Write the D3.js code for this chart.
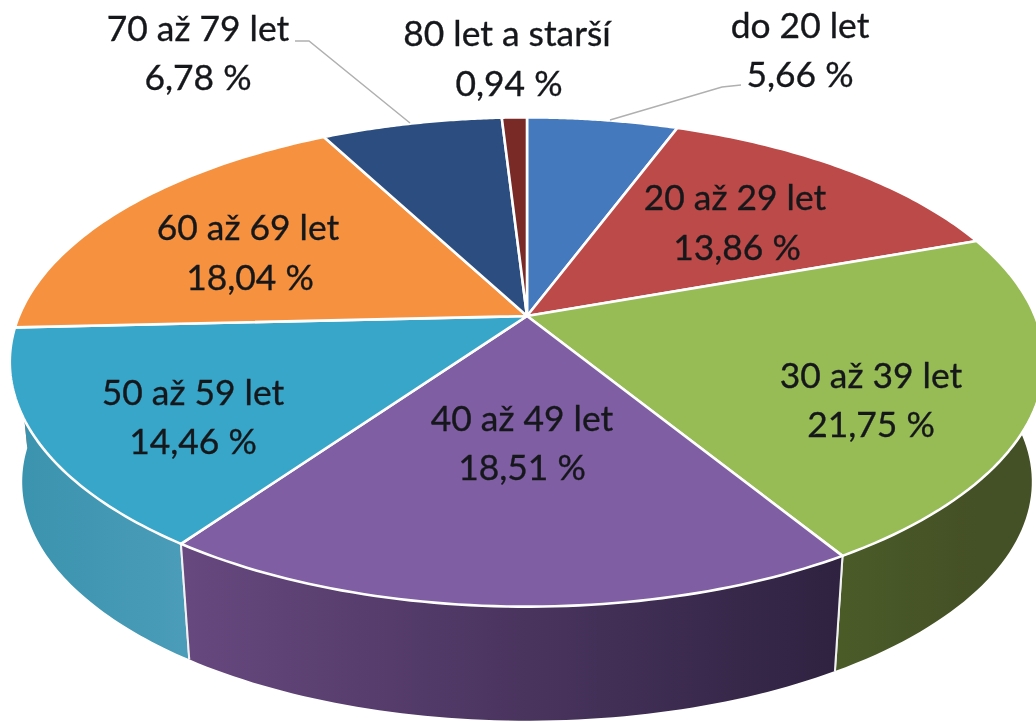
<!DOCTYPE html>
<html><head><meta charset="utf-8">
<script src="https://cdn.jsdelivr.net/npm/d3@7"></script>
<style>html,body{margin:0;padding:0;background:#fff;overflow:hidden}svg{display:block;filter:blur(0.6px)}text{font-family:Lato,"Open Sans",sans-serif;font-size:35.4px;fill:#15171b;stroke:#15171b;stroke-width:0.35px;text-anchor:middle}</style>
</head><body><svg id="c" width="1036" height="722"></svg>
<script>
const categories=["do 20 let","20 až 29 let","30 až 39 let","40 až 49 let","50 až 59 let","60 až 69 let","70 až 79 let","80 let a starší"];
const values=[5.66,13.86,21.75,18.51,14.46,18.04,6.78,0.94];
const valueLabels=["5,66 %","13,86 %","21,75 %","18,51 %","14,46 %","18,04 %","6,78 %","0,94 %"];
const topColors=["#4579bd","#bc4a48","#97bb55","#7f5ea3","#37a6c9","#f5913f","#2c4d80","#792a27"];
const wallColors=[["#3a6398","#3a6398"],["#8a3533","#8a3533"],["#445025","#4a5b28"],["#67487f","#2e2240"],["#4a9cb8","#3a93ae"],["#b56a2e","#b56a2e"],["#203a60","#203a60"],["#5a201e","#5a201e"]];
const labelPos=[[800,38,800,87],[735,210,737,260],[871,388,871,437],[522,431,522,480],[193,405,193,454],[248,240,250,290],[198,41,198,90],[507,46,509,96]];

const svg=d3.select("#c"),defs=svg.append("defs");
const pie=d3.pie().sort(null).value(d=>d);
const arcs=pie(values);
const hub=[527,316],k=0.188,B=508,A=236,depthPx=119;
const sx=d3.scaleLinear().domain([-1,1]).range([-B,B]);
const sy=d3.scaleLinear().domain([-1,1]).range([-A,A]);
function proj(a,r,depth){
  const u=Math.sin(a)*r,v=-Math.cos(a)*r,d=1-k*v,s=depth?0.976:1;
  return [hub[0]+s*sx(u)/d,hub[1]+(depth?depthPx:0)+s*sy(v)/d+(depth?2:0)];
}
const line=d3.line();
function samples(a0,a1){return d3.range(0,61).map(i=>a0+(a1-a0)*i/60);}

// walls, painted back to front
const order=arcs.map((d,i)=>i).sort((p,q)=>{
  const c=i=>-Math.cos((arcs[i].startAngle+arcs[i].endAngle)/2);return c(p)-c(q);});
order.forEach(i=>{
  const d=arcs[i],g="w"+i;
  const lg=defs.append("linearGradient").attr("id",g).attr("gradientUnits","userSpaceOnUse")
    .attr("x1",proj(d.startAngle,1,0)[0]).attr("x2",proj(d.endAngle,1,0)[0]).attr("y1",0).attr("y2",0);
  const cols=i==3?[wallColors[i][1],wallColors[i][0]]:[wallColors[i][0],wallColors[i][1]];
  lg.append("stop").attr("offset",0).attr("stop-color",cols[0]);
  lg.append("stop").attr("offset",1).attr("stop-color",cols[1]);
  const ts=samples(d.startAngle,d.endAngle);
  const poly=ts.map(a=>proj(a,1,0)).concat(ts.slice().reverse().map(a=>proj(a,1,1)));
  svg.append("path").attr("d",line(poly)+"Z").attr("fill",`url(#${g})`).attr("stroke","none");
  [d.startAngle,d.endAngle].forEach(a=>{
    if(Math.cos(a)<-0.3) svg.append("path").attr("d",line([proj(a,1,0),proj(a,1,1)])).attr("stroke","#f1f1f1").attr("stroke-width",2).attr("fill","none");
  });
});
// top faces
arcs.forEach((d,i)=>{
  const ts=samples(d.startAngle,d.endAngle);
  const poly=[proj(0,0,0)].concat(ts.map(a=>proj(a,1,0)));
  svg.append("path").attr("d",line(poly)+"Z").attr("fill",topColors[i]).attr("stroke","#fff").attr("stroke-width",2.6).attr("stroke-linejoin","round");
});
// leader lines
const leaders=[[[295,41],[309,41],[410,123]],[[741,85],[722,87],[610,120]]];
leaders.forEach(l=>svg.append("path").attr("d",line(l)).attr("fill","none").attr("stroke","#b0b0b0").attr("stroke-width",1.5));
// labels
categories.forEach((c,i)=>{
  const p=labelPos[i];
  svg.append("text").attr("x",p[0]).attr("y",p[1]).text(c);
  svg.append("text").attr("x",p[2]).attr("y",p[3]).text(valueLabels[i]);
});
</script></body></html>
